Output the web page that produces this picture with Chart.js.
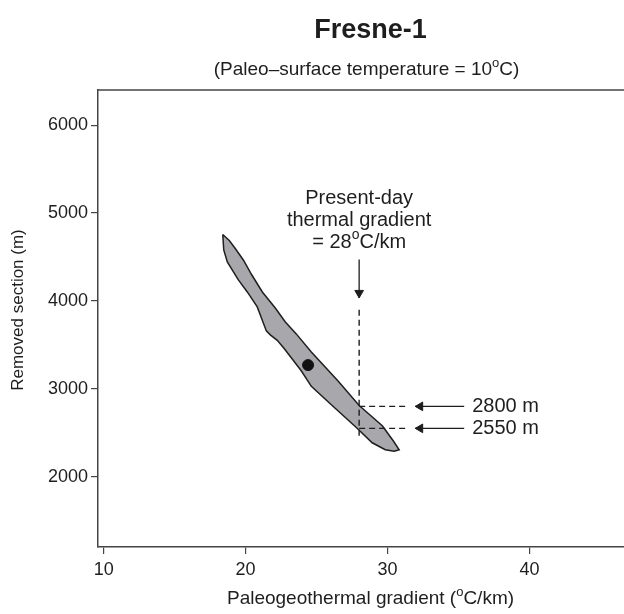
<!DOCTYPE html>
<html>
<head>
<meta charset="utf-8">
<script src="https://cdn.jsdelivr.net/npm/chart.js@4.4.1/dist/chart.umd.min.js"></script>
<style>
  html, body { margin: 0; padding: 0; background: #fff; overflow: hidden; }
  canvas { display: block; }
</style>
</head>
<body>
<canvas id="fresneChart" width="700" height="614"></canvas>
<script>
// paleogeothermal gradient (°C/km) vs removed section (m) envelope, traced round the outline
const envelopeX = [18.39, 18.85, 19.27, 19.84, 20.44, 21.18, 22.09, 22.80, 23.57, 24.63, 26.53, 28.00, 29.63, 30.40, 30.82,
                   30.47, 29.84, 28.92, 27.80, 26.04, 24.63, 23.92, 22.73, 22.23, 21.74, 21.46, 20.82, 20.12, 19.49, 18.71, 18.46, 18.39];
const envelopeY = [4756, 4688, 4597, 4466, 4295, 4102, 3920, 3761, 3625, 3420, 3085, 2810, 2580, 2409, 2307,
                   2290, 2307, 2386, 2560, 2818, 3028, 3205, 3455, 3551, 3614, 3659, 3932, 4102, 4239, 4443, 4580, 4756];

// best estimate
const bestX = [24.4];
const bestY = [3270];

// present-day gradient and the depths where it cuts the envelope
const presentGradient = 28;
const gradientLineY = [3900, 2450];
const gradientArrowY = [4470, 4034];
const crossingDepths = [2800, 2550];
const crossingLabels = ['2800 m', '2550 m'];
const depthLineEndX = 31.3;
const depthArrowX = [35.4, 31.95];

const xTicks = [10, 20, 30, 40];
const yTicks = [2000, 3000, 4000, 5000, 6000];

const FONT = '"Liberation Sans", Arial, sans-serif';
const INK = '#1e1e1e';
const AXIS = '#444';

// text with ^o^ marking superscript parts
function drawRich(ctx, str, x, y, size, align) {
    const parts = str.split('^').map((t, i) => ({ t: t, sup: i % 2 === 1 }));
    let total = 0;
    parts.forEach(p => {
        ctx.font = (p.sup ? Math.round(size * 0.7) : size) + 'px ' + FONT;
        p.w = ctx.measureText(p.t).width;
        total += p.w;
    });
    let cx = align === 'center' ? x - total / 2 : x;
    parts.forEach(p => {
        ctx.font = (p.sup ? Math.round(size * 0.7) : size) + 'px ' + FONT;
        ctx.fillText(p.t, cx, p.sup ? y - size * 0.36 : y);
        cx += p.w;
    });
}

const textPlugin = {
    id: 'fresneText',
    afterDraw(chart) {
        const ctx = chart.ctx;
        const area = chart.chartArea;
        const xs = chart.scales.x;
        const ys = chart.scales.y;
        const midX = (area.left + area.right) / 2;
        ctx.save();
        ctx.fillStyle = INK;
        ctx.textBaseline = 'middle';

        // top frame line
        ctx.strokeStyle = AXIS;
        ctx.lineWidth = 1.5;
        ctx.beginPath();
        ctx.moveTo(area.left, area.top);
        ctx.lineTo(area.right, area.top);
        ctx.stroke();

        // titles
        ctx.font = 'bold 27px ' + FONT;
        ctx.textAlign = 'center';
        ctx.fillText('Fresne-1', midX, 31);
        ctx.textAlign = 'left';
        drawRich(ctx, '(Paleo–surface temperature = 10^o^C)', midX - 4, 70, 19, 'center');
        drawRich(ctx, 'Paleogeothermal gradient (^o^C/km)', midX, 599, 19, 'center');

        ctx.save();
        ctx.translate(18, 310);
        ctx.rotate(-Math.PI / 2);
        ctx.textAlign = 'center';
        ctx.font = '17px ' + FONT;
        ctx.fillText('Removed section (m)', 0, 0);
        ctx.restore();

        // present-day gradient note
        const nx = xs.getPixelForValue(presentGradient);
        const ny = ys.getPixelForValue(gradientArrowY[0]);
        ctx.textAlign = 'left';
        drawRich(ctx, 'Present-day', nx, ny - 61, 20, 'center');
        drawRich(ctx, 'thermal gradient', nx, ny - 39, 20, 'center');
        drawRich(ctx, '= 28^o^C/km', nx, ny - 17, 20, 'center');

        // depth labels
        crossingDepths.forEach((d, i) => {
            drawRich(ctx, crossingLabels[i], xs.getPixelForValue(depthArrowX[0]) + 8, ys.getPixelForValue(d), 20, 'left');
        });
        ctx.restore();
    }
};

function dashedLine(data) {
    return {
        data: data,
        showLine: true,
        borderColor: INK,
        borderWidth: 1.4,
        borderDash: [6, 4],
        pointRadius: 0
    };
}

function arrowShaft(data) {
    return { data: data, showLine: true, borderColor: INK, borderWidth: 1.3, pointRadius: 0 };
}

function arrowHead(point, rotation) {
    return {
        data: [point],
        showLine: false,
        pointStyle: 'triangle',
        rotation: rotation,
        pointRadius: 5,
        pointBackgroundColor: INK,
        pointBorderColor: INK,
        pointBorderWidth: 1
    };
}

document.addEventListener('DOMContentLoaded', function() {
    const ctx = document.getElementById('fresneChart').getContext('2d');
    const headOffsetY = 57;   // about 5 px in metres
    const headOffsetX = 0.35; // about 5 px in °C/km

    const datasets = [
        {
            data: bestX.map((x, i) => ({ x: x, y: bestY[i] })),
            showLine: false,
            pointRadius: 5.5,
            pointBackgroundColor: '#111',
            pointBorderColor: '#111'
        },
        arrowHead({ x: presentGradient, y: gradientArrowY[1] + headOffsetY }, 180),
        arrowShaft(gradientArrowY.map(y => ({ x: presentGradient, y: y }))),
        dashedLine(gradientLineY.map(y => ({ x: presentGradient, y: y })))
    ];
    crossingDepths.forEach(d => {
        datasets.push(arrowHead({ x: depthArrowX[1] + headOffsetX, y: d }, 270));
        datasets.push(arrowShaft(depthArrowX.map(x => ({ x: x, y: d }))));
        datasets.push(dashedLine([{ x: presentGradient, y: d }, { x: depthLineEndX, y: d }]));
    });
    datasets.push({
        data: envelopeX.map((x, i) => ({ x: x, y: envelopeY[i] })),
        showLine: true,
        borderColor: INK,
        borderWidth: 1.5,
        backgroundColor: '#a8a8ac',
        fill: 'shape',
        tension: 0,
        pointRadius: 0
    });

    new Chart(ctx, {
        type: 'scatter',
        data: { datasets: datasets },
        options: {
            responsive: false,
            animation: false,
            events: [],
            layout: { padding: { top: 90, right: 57, bottom: 0, left: 0 } },
            plugins: {
                legend: { display: false },
                tooltip: { enabled: false },
                title: { display: false }
            },
            scales: {
                x: {
                    type: 'linear',
                    min: 9.6,
                    max: 48,
                    afterFit: s => { s.height = 67; },
                    afterBuildTicks: s => { s.ticks = xTicks.map(v => ({ value: v })); },
                    grid: { drawOnChartArea: false, drawTicks: true, tickLength: 7, color: AXIS, lineWidth: 1.2 },
                    border: { display: true, color: AXIS, width: 1.5 },
                    ticks: { color: INK, font: { family: FONT, size: 18 }, padding: 5, maxRotation: 0,
                             callback: v => String(v) }
                },
                y: {
                    type: 'linear',
                    min: 1200,
                    max: 6400,
                    afterFit: s => { s.width = 98; },
                    afterBuildTicks: s => { s.ticks = yTicks.map(v => ({ value: v })); },
                    grid: { drawOnChartArea: false, drawTicks: true, tickLength: 7, color: AXIS, lineWidth: 1.2 },
                    border: { display: true, color: AXIS, width: 1.5 },
                    ticks: { color: INK, font: { family: FONT, size: 18 }, padding: 3,
                             callback: v => String(v) }
                }
            }
        },
        plugins: [textPlugin]
    });
});
</script>
</body>
</html>
